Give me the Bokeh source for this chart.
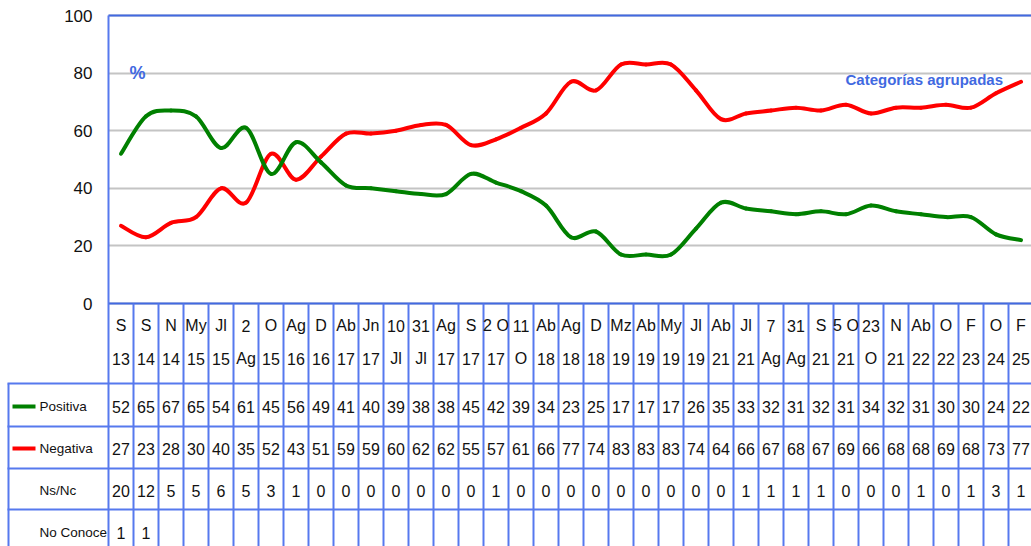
from bokeh.plotting import figure
from bokeh.models import Range1d, FixedTicker, ColumnDataSource
from bokeh.core.properties import value
from bokeh.embed import file_html
from bokeh.resources import INLINE

# ---------------- data ----------------
cat_top = ["S", "S", "N", "My", "Jl", "2", "O", "Ag", "D", "Ab", "Jn", "10", "31", "Ag", "S", "2 O",
           "11", "Ab", "Ag", "D", "Mz", "Ab", "My", "Jl", "Ab", "Jl", "7", "31", "S", "5 O", "23", "N",
           "Ab", "O", "F", "O", "F"]
cat_bot = ["13", "14", "14", "15", "15", "Ag", "15", "16", "16", "17", "17", "Jl", "Jl", "17", "17", "17",
           "O", "18", "18", "18", "19", "19", "19", "19", "21", "21", "Ag", "Ag", "21", "21", "O", "21",
           "22", "22", "23", "24", "25"]
positiva = [52, 65, 67, 65, 54, 61, 45, 56, 49, 41, 40, 39, 38, 38, 45, 42,
            39, 34, 23, 25, 17, 17, 17, 26, 35, 33, 32, 31, 32, 31, 34, 32, 31, 30, 30, 24, 22]
negativa = [27, 23, 28, 30, 40, 35, 52, 43, 51, 59, 59, 60, 62, 62, 55, 57,
            61, 66, 77, 74, 83, 83, 83, 74, 64, 66, 67, 68, 67, 69, 66, 68, 68, 69, 68, 73, 77]
nsnc = [20, 12, 5, 5, 6, 5, 3, 1, 0, 0, 0, 0, 0, 0, 0, 1,
        0, 0, 0, 0, 0, 0, 0, 0, 0, 1, 1, 1, 1, 0, 0, 0, 1, 0, 1, 3, 1]
no_conoce = [1, 1]
row_names = ["Positiva", "Negativa", "Ns/Nc", "No Conoce"]
y_ticks = [0, 20, 40, 60, 80, 100]

# ---------------- style / layout ----------------
FONT = "Liberation Sans"
BLUE = "#4169E1"
TBL = "#5679EE"
GREEN = "#008000"
RED = "#FF0000"
FS = "16px"
N = len(cat_top)
W, H = 1031, 546
COLW = 25.0           # px per category column
X0 = 108              # page x of the plot area's left edge
Y0 = 303              # page y of value 0
YS = 2.88             # px per percent


def X(px):
    return (px - X0) / COLW - 0.5


def Y(py):
    return (Y0 - py) / YS


XL = X(X0)            # data x of plot-area left edge
XR = X(W)

p = figure(width=W, height=H, x_range=Range1d(X(0), XR), y_range=Range1d(Y(H), Y(0)),
           output_backend="svg", toolbar_location=None, x_axis_location=None,
           min_border_left=0, min_border_right=0, min_border_top=0, min_border_bottom=0)
p.outline_line_color = None
p.xgrid.visible = False
p.ygrid.ticker = FixedTicker(ticks=y_ticks)
p.ygrid.grid_line_color = "#C4C4C4"
p.ygrid.grid_line_width = 2
try:
    p.ygrid.cross_bounds = (XL, XR)
except Exception:
    p.quad(left=X(0), right=XL, bottom=-1, top=101, fill_color="white", line_color=None,
           level="underlay")

p.yaxis.fixed_location = XL
p.yaxis.bounds = (Y(H + 10), 100)
p.yaxis.ticker = FixedTicker(ticks=y_ticks)
p.yaxis.axis_line_color = TBL
p.yaxis.axis_line_width = 2
p.yaxis.major_tick_line_color = None
p.yaxis.minor_tick_line_color = None
p.yaxis.major_label_text_font = FONT
p.yaxis.major_label_text_font_size = "17px"
p.yaxis.major_label_text_color = "#111111"
p.yaxis.major_label_standoff = 10

# plot area top border and zero line
p.segment(x0=[XL, XL], y0=[100, 0], x1=[XR, XR], y1=[100, 0], line_color=BLUE, line_width=2)


def bezier_source(vals):
    n = len(vals)
    d = dict(x0=[], y0=[], x1=[], y1=[], cx0=[], cy0=[], cx1=[], cy1=[])
    for i in range(n - 1):
        im, ip2 = max(i - 1, 0), min(i + 2, n - 1)
        d["x0"].append(i); d["y0"].append(vals[i]); d["x1"].append(i + 1); d["y1"].append(vals[i + 1])
        d["cx0"].append(i + (i + 1 - im) / 6); d["cy0"].append(vals[i] + (vals[i + 1] - vals[im]) / 6)
        d["cx1"].append(i + 1 - (ip2 - i) / 6); d["cy1"].append(vals[i + 1] - (vals[ip2] - vals[i]) / 6)
    return ColumnDataSource(d)


for vals, col in ((negativa, RED), (positiva, GREEN)):
    p.bezier(x0="x0", y0="y0", x1="x1", y1="y1", cx0="cx0", cy0="cy0", cx1="cx1", cy1="cy1",
             source=bezier_source(vals), line_color=col, line_width=4, line_cap="round")

p.text(x=[X(137)], y=[Y(72)], text=["%"], text_color=BLUE,
       text_font=value(FONT), text_font_style="bold", text_font_size="18px",
       text_align="center", text_baseline="middle")
p.text(x=[X(845)], y=[Y(79)], text=["Categorías agrupadas"], text_color=BLUE,
       text_font=value(FONT), text_font_style="bold", text_font_size="15px",
       text_align="left", text_baseline="middle")

# ---------------- table ----------------
row_lines = [383, 426, 468, 509]   # page y of horizontal row lines
row_y = [406, 448, 490, 532]       # page y of row text centres

vx = [i - 0.5 for i in range(1, N + 1)]
p.segment(x0=vx, y0=[0] * len(vx), x1=vx, y1=[Y(H + 10)] * len(vx), line_color=TBL, line_width=2)
hy = [Y(r) for r in row_lines]
p.segment(x0=[X(7)] * len(hy), y0=hy, x1=[XR] * len(hy), y1=hy, line_color=TBL, line_width=2)
p.segment(x0=[X(8)], y0=[Y(row_lines[0])], x1=[X(8)], y1=[Y(H + 10)], line_color=TBL, line_width=2)
# legend swatches
p.segment(x0=[X(12)] * 2, y0=[Y(r) for r in row_y[:2]], x1=[X(35)] * 2, y1=[Y(r) for r in row_y[:2]],
          line_color=[GREEN, RED], line_width=4)

idx = list(range(N))
txt = dict(text_font=value(FONT), text_font_size=FS, text_color="#111111",
           text_align="center", text_baseline="middle")
p.text(x=idx, y=[Y(325)] * N, text=cat_top, **txt)
p.text(x=idx, y=[Y(358)] * N, text=cat_bot, **txt)
for vals, ry in zip((positiva, negativa, nsnc, no_conoce), row_y):
    p.text(x=list(range(len(vals))), y=[Y(ry)] * len(vals), text=[str(v) for v in vals], **txt)

lbl = dict(txt)
lbl["text_align"] = "left"
lbl["text_font_size"] = "13.5px"
p.text(x=[X(39)] * 4, y=[Y(r) for r in row_y], text=row_names, **lbl)

open("out.html", "w").write(file_html(p, INLINE))
